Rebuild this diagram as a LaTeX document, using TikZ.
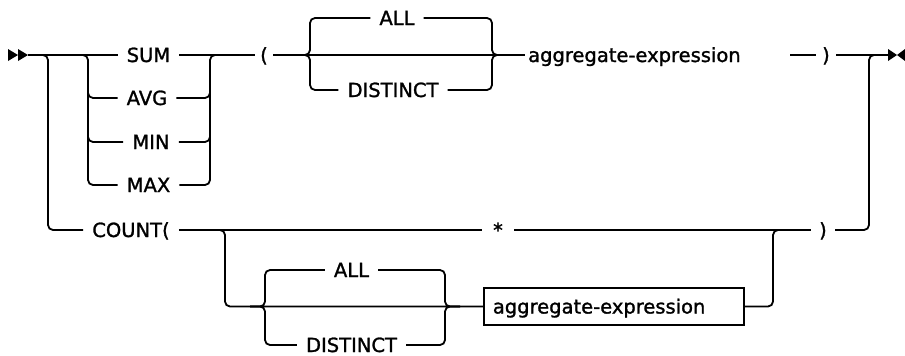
\documentclass[tikz,border=0pt]{standalone}
\usepackage{fontspec}
\newfontfamily\railfont[FakeBold=1.3]{DejaVu Sans}
\begin{document}
\begin{tikzpicture}[x=1pt,y=-1pt,
  lbl/.style={inner xsep=9pt,inner ysep=0pt,text height=14pt,text depth=0pt,
    font=\railfont\fontsize{19.5}{22}\selectfont},
  rail/.style={line width=1.8pt,rounded corners=5pt},
  boxed/.style={lbl,draw,line width=1.8pt,inner xsep=9pt,inner ysep=11.5pt,
    text width=242pt,align=left}]
\useasboundingbox (0,0) rectangle (905,356);
% nodes
\node[lbl] (sum) at (148.5,55) {SUM};
\node[lbl] (avg) at (147,98) {AVG};
\node[lbl] (min) at (151,142) {MIN};
\node[lbl] (max) at (148.5,185) {MAX};
\node[lbl,inner xsep=5pt] (lp) at (264,55) {(};
\node[lbl] (all1) at (397,18) {ALL};
\node[lbl] (dis1) at (393,90) {DISTINCT};
\node[lbl,anchor=west,inner xsep=3pt] (agg1) at (525,55) {aggregate-expression};
\node[lbl,inner xsep=6pt] (rp1) at (826,55) {)};
\node[lbl] (count) at (131,230) {COUNT(};
\node[lbl,inner xsep=11pt] (star) at (498,230) {*};
\node[lbl,inner xsep=8pt] (rp2) at (823,230) {)};
\node[lbl] (all2) at (351.5,270) {ALL};
\node[lbl] (dis2) at (351.5,345) {DISTINCT};
\node[boxed,anchor=west] (box) at (483,306.5) {aggregate-expression};
\coordinate (s0) at (28,55);
\coordinate (e0) at (888,55);
\coordinate (agg1r) at (790,55);
% start / end markers
\fill (8,49) -- (18,55) -- (8,61) -- cycle;
\fill (18,49) -- (28,55) -- (18,61) -- cycle;
\fill (888,49) -- (897,55) -- (888,61) -- cycle;
\fill (905,49) -- (897,55) -- (905,61) -- cycle;
% main line
\draw[rail] (s0) -- (sum.west);
\draw[rail] (sum.east) -- (lp.west);
\draw[rail] (lp.east) -- (agg1.west);
\draw[rail] (agg1r) -- (rp1.west);
\draw[rail] (rp1.east) -- (e0);
% outer branch
\draw[rail] (s0) -| (48,230) -- (count.west);
% SUM/AVG/MIN/MAX
\draw[rail] (70,55) -| (88,185) -- (max.west);
\draw[rail] (88,80) |- (avg.west);
\draw[rail] (88,120) |- (min.west);
\draw[rail] (max.east) -| (210,55) -- (225,55);
\draw[rail] (avg.east) -| (210,80);
\draw[rail] (min.east) -| (210,120);
% top ALL/DISTINCT
\draw[rail] (295,55) -| (310,18) -- (all1.west);
\draw[rail] (295,55) -| (310,90) -- (dis1.west);
\draw[rail] (all1.east) -| (492,55) -- (507,55);
\draw[rail] (dis1.east) -| (492,55) -- (507,55);
% right merge
\draw[rail] (rp2.east) -| (869,55) -- (e0);
% COUNT row
\draw[rail] (count.east) -- (star.west);
\draw[rail] (star.east) -- (rp2.west);
\draw[rail] (205,230) -| (225,306.5) -- (box.west);
\draw[rail] (250,306.5) -| (265,270) -- (all2.west);
\draw[rail] (250,306.5) -| (265,345) -- (dis2.west);
\draw[rail] (all2.east) -| (445,306.5) -- (460,306.5);
\draw[rail] (dis2.east) -| (445,306.5) -- (460,306.5);
\draw[rail] (box.east) -| (773,230) -- (790,230);
\end{tikzpicture}
\end{document}
